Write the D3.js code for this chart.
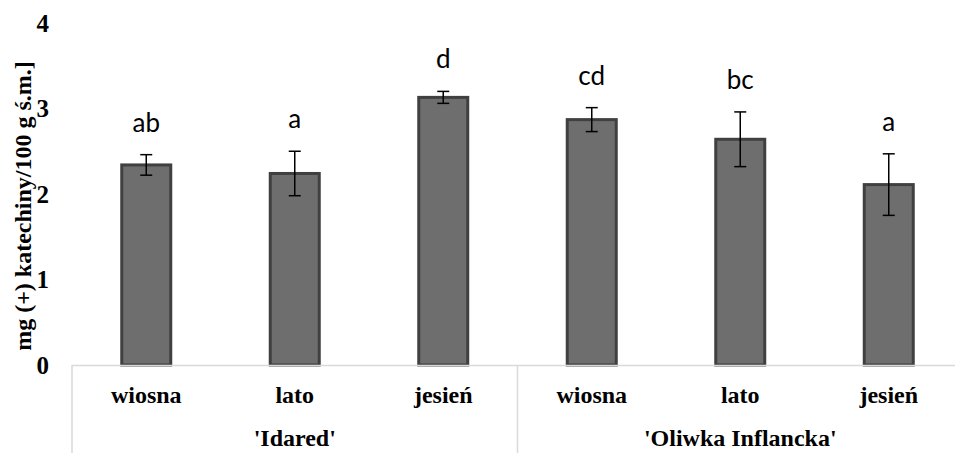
<!DOCTYPE html>
<html><head><meta charset="utf-8">
<script src="https://cdn.jsdelivr.net/npm/d3@7"></script>
<style>html,body{margin:0;padding:0;background:#fff;}svg{display:block;}</style>
</head><body>
<svg id="chart" width="955" height="453"></svg>
<script>
const seasons = ["wiosna","lato","jesień","wiosna","lato","jesień"];
const groups = ["'Idared'","'Oliwka Inflancka'"];
const means = [2.34, 2.24, 3.13, 2.87, 2.64, 2.11];
const errors = [0.12, 0.26, 0.07, 0.14, 0.32, 0.36];
const letters = ["ab","a","d","cd","bc","a"];
const yTicks = [0,1,2,3,4];

const svg = d3.select("#chart");
const x = d3.scaleBand().domain(d3.range(seasons.length)).range([72, 963]).paddingInner(0.67).paddingOuter(0.335);
const y = d3.scaleLinear().domain([0,4]).range([365, 23]);
const serif = "'Liberation Serif','Times New Roman',serif";

// y tick labels
svg.append("g").selectAll("text").data(yTicks).join("text")
  .attr("x", 49).attr("y", d => y(d)).attr("dy","0.35em")
  .attr("text-anchor","end").attr("font-family",serif).attr("font-weight","bold")
  .attr("font-size",25).attr("fill","#000").text(d => d);

// y title
svg.append("text").attr("transform","translate(31,206) rotate(-90)")
  .attr("text-anchor","middle").attr("font-family",serif).attr("font-weight","bold")
  .attr("font-size",24).attr("fill","#000").text("mg (+) katechiny/100 g ś.m.]");

// bars
const cx = i => x(i) + x.bandwidth()/2;
svg.append("g").selectAll("rect").data(means).join("rect")
  .attr("x",(d,i)=>x(i)).attr("y",d=>y(d)).attr("width",x.bandwidth()).attr("height",d=>y(0)-y(d))
  .attr("fill","#6e6e6e").attr("stroke","#404040").attr("stroke-width",3);

// baseline & group separators
const step = x.step();
const left = 72, sep = 72 + 3*step, right = 963;
svg.append("line").attr("x1",left).attr("x2",right).attr("y1",y(0)+0.5).attr("y2",y(0)+0.5)
  .attr("stroke","#d9d9d9").attr("stroke-width",1.5);
[left, sep].forEach(xv => svg.append("line").attr("x1",xv).attr("x2",xv).attr("y1",y(0)).attr("y2",453)
  .attr("stroke","#d9d9d9").attr("stroke-width",1.5));

// error bars
const eb = svg.append("g").attr("stroke","#000").attr("stroke-width",1.5);
means.forEach((m,i) => {
  const c = cx(i), t = y(m+errors[i]), b = y(m-errors[i]);
  eb.append("line").attr("x1",c).attr("x2",c).attr("y1",t).attr("y2",b);
  eb.append("line").attr("x1",c-6).attr("x2",c+6).attr("y1",t).attr("y2",t);
  eb.append("line").attr("x1",c-6).attr("x2",c+6).attr("y1",b).attr("y2",b);
});

// significance letters
svg.append("g").selectAll("text").data(letters).join("text")
  .attr("x",(d,i)=>cx(i)).attr("y",(d,i)=>y(means[i]+errors[i]) - 23)
  .attr("text-anchor","middle").attr("font-family","Lato, 'Open Sans', sans-serif")
  .attr("font-size",26).attr("fill","#000").text(d=>d);

// category labels
svg.append("g").selectAll("text").data(seasons).join("text")
  .attr("x",(d,i)=>cx(i)).attr("y",403).attr("text-anchor","middle")
  .attr("font-family",serif).attr("font-weight","bold").attr("font-size",24).attr("fill","#000").text(d=>d);

// group labels
svg.append("g").selectAll("text").data(groups).join("text")
  .attr("x",(d,i)=> i===0 ? (left+sep)/2 : (sep+right)/2).attr("y",446).attr("text-anchor","middle")
  .attr("font-family",serif).attr("font-weight","bold").attr("font-size",24).attr("fill","#000").text(d=>d);
</script>
</body></html>
